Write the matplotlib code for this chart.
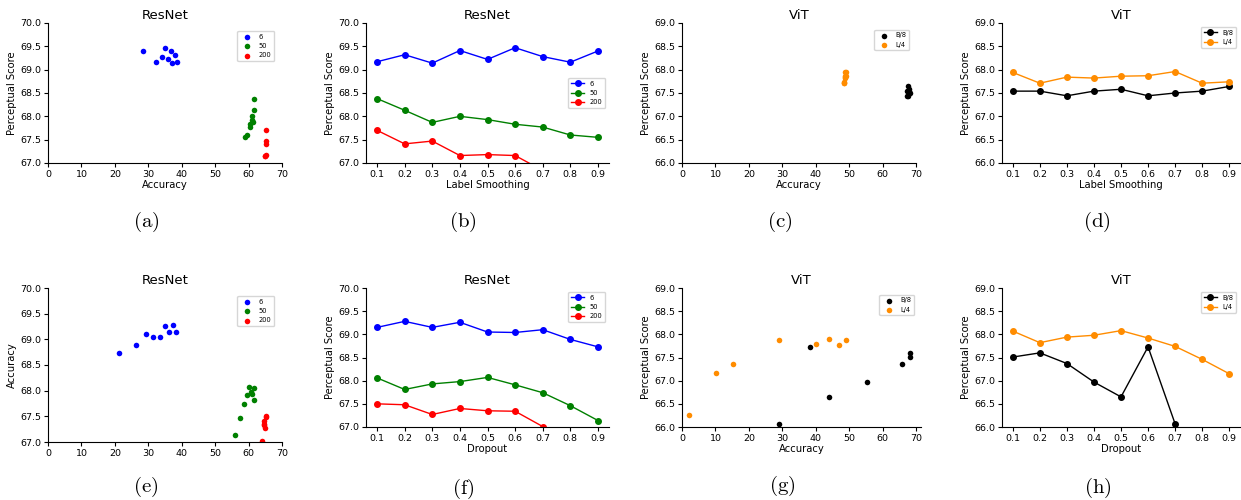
import numpy as np
import matplotlib
matplotlib.use("Agg")
import matplotlib.pyplot as plt

plt.rcParams['font.family'] = ['DejaVu Sans']
plt.rcParams['mathtext.fontset'] = 'cm'

# ---------------- data ----------------
hp = [0.1, 0.2, 0.3, 0.4, 0.5, 0.6, 0.7, 0.8, 0.9]

# ResNet, label smoothing
rn_ls_6 = [69.17, 69.32, 69.14, 69.41, 69.22, 69.47, 69.28, 69.16, 69.40]
rn_ls_50 = [68.38, 68.13, 67.87, 68.00, 67.93, 67.83, 67.77, 67.60, 67.55]
rn_ls_200 = [67.70, 67.41, 67.47, 67.16, 67.18, 67.16, 66.84, 66.70, 66.60]
rn_ls_acc_6 = [38.6, 37.9, 37.2, 36.9, 35.8, 35.1, 34.0, 32.4, 28.5]
rn_ls_acc_50 = [61.5, 61.5, 61.2, 61.0, 61.0, 60.5, 60.5, 59.6, 58.8]
rn_ls_acc_200 = [65.3, 65.2, 65.2, 65.0, 65.3, 64.8, 64.5, 64.0, 63.5]

# ResNet, dropout
rn_do_6 = [69.15, 69.28, 69.15, 69.26, 69.05, 69.04, 69.10, 68.89, 68.73]
rn_do_50 = [68.06, 67.81, 67.93, 67.98, 68.07, 67.91, 67.74, 67.46, 67.14]
rn_do_200 = [67.50, 67.48, 67.27, 67.40, 67.35, 67.34, 67.01, 66.60, 66.20]
rn_do_acc_6 = [38.3, 37.4, 36.1, 34.9, 33.6, 31.4, 29.3, 26.3, 21.2]
rn_do_acc_50 = [61.5, 61.5, 61.0, 60.8, 60.0, 59.4, 58.6, 57.4, 56.0]
rn_do_acc_200 = [65.1, 65.1, 65.0, 64.5, 64.5, 64.6, 64.1, 63.5, 62.5]

# ViT, label smoothing
vit_ls_b8 = [67.54, 67.54, 67.44, 67.54, 67.58, 67.44, 67.50, 67.54, 67.64]
vit_ls_l4 = [67.94, 67.71, 67.84, 67.82, 67.86, 67.87, 67.96, 67.71, 67.74]
vit_ls_acc_b8 = [67.6, 67.9, 67.5, 67.7, 67.8, 67.4, 68.1, 67.3, 67.7]
vit_ls_acc_l4 = [48.8, 48.4, 48.9, 48.7, 49.0, 48.9, 49.1, 48.6, 48.5]

# ViT, dropout
vit_do_b8 = [67.51, 67.60, 67.37, 66.97, 66.65, 67.73, 66.07, np.nan, np.nan]
vit_do_l4 = [68.07, 67.82, 67.94, 67.98, 68.08, 67.92, 67.74, 67.46, 67.15]
vit_do_acc_b8 = [68.1, 68.1, 65.7, 55.2, 44.0, 38.4, 29.0]
vit_do_sc_b8 = [67.51, 67.60, 67.37, 66.97, 66.65, 67.73, 66.07]
vit_do_acc_l4 = [2.0, 10.1, 15.2, 29.0, 40.1, 44.1, 47.1, 49.0]
vit_do_sc_l4 = [66.25, 67.16, 67.36, 67.88, 67.79, 67.89, 67.77, 67.88]

rn_labels = ['6', '50', '200']
rn_colors = ['blue', 'green', 'red']
vit_labels = ['B/8', 'L/4']
vit_colors = ['black', 'darkorange']
captions = ['(a)', '(b)', '(c)', '(d)', '(e)', '(f)', '(g)', '(h)']

# ---------------- layout ----------------
W, H = 1241, 500
fig = plt.figure(figsize=(W / 100, H / 100), dpi=100)

TICK = 6.8
LAB = 7.2
TIT = 9.5
LEG = 4.8
MS = 4.0
S = 16


def add_ax(l, r, t, b):
    ax = fig.add_axes([l / W, 1 - b / H, (r - l) / W, (b - t) / H])
    for s in ['top', 'right']:
        ax.spines[s].set_visible(False)
    ax.tick_params(labelsize=TICK, length=3, width=0.8, pad=2)
    return ax


def caption(x, y, s):
    fig.text(x / W, 1 - y / H, r'$\mathrm{' + s + '}$', ha='center', va='center', fontsize=15)


def res_y(ax):
    ax.set_ylim(67.0, 70.0)
    ax.set_yticks(np.arange(67.0, 70.01, 0.5))
    ax.yaxis.set_major_formatter(matplotlib.ticker.FormatStrFormatter('%.1f'))


def vit_y(ax):
    ax.set_ylim(66.0, 69.0)
    ax.set_yticks(np.arange(66.0, 69.01, 0.5))
    ax.yaxis.set_major_formatter(matplotlib.ticker.FormatStrFormatter('%.1f'))


def hp_x(ax):
    ax.set_xticks(hp)
    ax.set_xlim(0.06, 0.94)


# (a)
ax = add_ax(48, 282, 23, 163)
for xs, ys, c, l in zip([rn_ls_acc_6, rn_ls_acc_50, rn_ls_acc_200],
                        [rn_ls_6, rn_ls_50, rn_ls_200], rn_colors, rn_labels):
    ax.scatter(xs, ys, s=S, color=c, label=l, linewidths=0)
res_y(ax)
ax.set_xlim(0, 70)
ax.set_xticks(range(0, 71, 10))
ax.set_xlabel('Accuracy', fontsize=LAB, labelpad=1)
ax.set_ylabel('Perceptual Score', fontsize=LAB, labelpad=2)
ax.set_title('ResNet', fontsize=TIT, pad=3)
ax.legend(fontsize=LEG, loc='upper right', scatterpoints=1, borderaxespad=1.2)

# (b)
ax = add_ax(366, 609, 23, 163)
for ys, c, l in zip([rn_ls_6, rn_ls_50, rn_ls_200], rn_colors, rn_labels):
    ax.plot(hp, ys, '-o', color=c, label=l, ms=MS, lw=1)
res_y(ax)
hp_x(ax)
ax.set_xlabel('Label Smoothing', fontsize=LAB, labelpad=1)
ax.set_ylabel('Perceptual Score', fontsize=LAB, labelpad=2)
ax.set_title('ResNet', fontsize=TIT, pad=3)
ax.legend(fontsize=LEG, loc='center right', borderaxespad=0.6)

# (c)
ax = add_ax(682, 916, 23, 163)
for xs, ys, c, l in zip([vit_ls_acc_b8, vit_ls_acc_l4], [vit_ls_b8, vit_ls_l4], vit_colors, vit_labels):
    ax.scatter(xs, ys, s=S, color=c, label=l, linewidths=0)
vit_y(ax)
ax.set_xlim(0, 70)
ax.set_xticks(range(0, 71, 10))
ax.set_xlabel('Accuracy', fontsize=LAB, labelpad=1)
ax.set_ylabel('Perceptual Score', fontsize=LAB, labelpad=2)
ax.set_title('ViT', fontsize=TIT, pad=3)
ax.legend(fontsize=LEG, loc='upper right', scatterpoints=1, borderaxespad=1.0)

# (d)
ax = add_ax(1002, 1240, 23, 163)
for ys, c, l in zip([vit_ls_b8, vit_ls_l4], vit_colors, vit_labels):
    ax.plot(hp, ys, '-o', color=c, label=l, ms=MS, lw=1)
vit_y(ax)
hp_x(ax)
ax.set_xlabel('Label Smoothing', fontsize=LAB, labelpad=1)
ax.set_ylabel('Perceptual Score', fontsize=LAB, labelpad=2)
ax.set_title('ViT', fontsize=TIT, pad=3)
ax.legend(fontsize=LEG, loc='upper right', borderaxespad=0.6)

# (e)
ax = add_ax(48, 282, 288, 442)
for xs, ys, c, l in zip([rn_do_acc_6, rn_do_acc_50, rn_do_acc_200],
                        [rn_do_6, rn_do_50, rn_do_200], rn_colors, rn_labels):
    ax.scatter(xs, ys, s=S, color=c, label=l, linewidths=0)
res_y(ax)
ax.set_xlim(0, 70)
ax.set_xticks(range(0, 71, 10))
ax.set_ylabel('Accuracy', fontsize=LAB, labelpad=2)
ax.set_title('ResNet', fontsize=TIT, pad=3)
ax.legend(fontsize=LEG, loc='upper right', scatterpoints=1, borderaxespad=1.2)

# (f)
ax = add_ax(366, 609, 288, 427)
for ys, c, l in zip([rn_do_6, rn_do_50, rn_do_200], rn_colors, rn_labels):
    ax.plot(hp, ys, '-o', color=c, label=l, ms=MS, lw=1)
res_y(ax)
hp_x(ax)
ax.set_xlabel('Dropout', fontsize=LAB, labelpad=1)
ax.set_ylabel('Perceptual Score', fontsize=LAB, labelpad=2)
ax.set_title('ResNet', fontsize=TIT, pad=3)
ax.legend(fontsize=LEG, loc='upper right', borderaxespad=0.6)

# (g)
ax = add_ax(682, 921, 288, 427)
ax.scatter(vit_do_acc_b8, vit_do_sc_b8, s=S, color=vit_colors[0], label=vit_labels[0], linewidths=0)
ax.scatter(vit_do_acc_l4, vit_do_sc_l4, s=S, color=vit_colors[1], label=vit_labels[1], linewidths=0)
vit_y(ax)
ax.set_xlim(0, 71.5)
ax.set_xticks(range(0, 71, 10))
ax.set_xlabel('Accuracy', fontsize=LAB, labelpad=1)
ax.set_ylabel('Perceptual Score', fontsize=LAB, labelpad=2)
ax.set_title('ViT', fontsize=TIT, pad=3)
ax.legend(fontsize=LEG, loc='upper right', scatterpoints=1, borderaxespad=1.0)

# (h)
ax = add_ax(1002, 1240, 288, 427)
for ys, c, l in zip([vit_do_b8, vit_do_l4], vit_colors, vit_labels):
    ax.plot(hp, ys, '-o', color=c, label=l, ms=MS, lw=1)
vit_y(ax)
hp_x(ax)
ax.set_xlabel('Dropout', fontsize=LAB, labelpad=1)
ax.set_ylabel('Perceptual Score', fontsize=LAB, labelpad=2)
ax.set_title('ViT', fontsize=TIT, pad=3)
ax.legend(fontsize=LEG, loc='upper right', borderaxespad=0.6)

# captions
cap_pos = [(146, 222), (463, 222), (780, 222), (1097, 222),
           (146, 487), (463, 489), (782, 486), (1098, 488)]
for (x, y), s in zip(cap_pos, captions):
    caption(x, y, s)

fig.savefig('out.png', dpi=100)
